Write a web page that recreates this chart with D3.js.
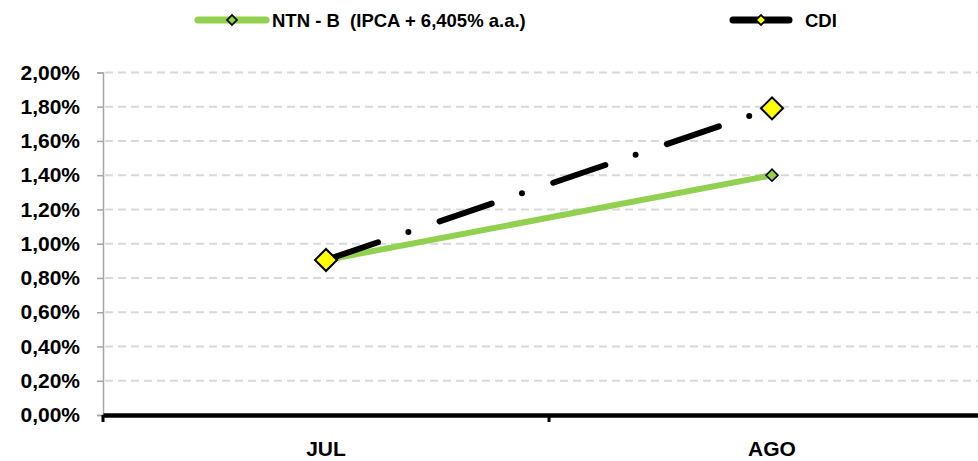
<!DOCTYPE html>
<html>
<head>
<meta charset="utf-8">
<script src="https://cdn.jsdelivr.net/npm/d3@7"></script>
<style>
  html, body { margin: 0; padding: 0; background: #fff; }
  svg { display: block; }
  text { font-family: "Liberation Sans Narrow", "Liberation Sans", Arial, sans-serif; font-weight: bold; fill: #000; white-space: pre; }
</style>
</head>
<body>
<svg id="chart" width="978" height="461"></svg>
<script>
// Monthly return, in percent
const months = ["JUL", "AGO"];
const ntnbValues = [0.905, 1.40];
const cdiValues = [0.905, 1.79];
const yTicks = [0, 0.2, 0.4, 0.6, 0.8, 1.0, 1.2, 1.4, 1.6, 1.8, 2.0];
const seriesNames = ["NTN - B  (IPCA + 6,405% a.a.)", "CDI"];

const svg = d3.select("#chart");
const plotLeft = 103, plotRight = 995, plotTop = 72.4, plotBottom = 415;

const x = d3.scaleBand().domain(months).range([plotLeft, plotRight]).paddingInner(0).paddingOuter(0);
const y = d3.scaleLinear().domain([0, 2]).range([plotBottom, plotTop]);
const fmt = v => d3.format(".2f")(v).replace(".", ",") + "%";

// horizontal gridlines
svg.append("g").selectAll("line").data(yTicks.filter(t => t > 0)).join("line")
  .attr("x1", plotLeft + 2).attr("x2", 978)
  .attr("y1", d => y(d)).attr("y2", d => y(d))
  .attr("stroke", "#d9d9d9").attr("stroke-width", 2).attr("stroke-dasharray", "8,5");

// y axis
const yAxis = svg.append("g").attr("transform", `translate(${plotLeft},0)`)
  .call(d3.axisLeft(y).tickValues(yTicks).tickFormat(fmt).tickSize(6).tickPadding(17));
yAxis.select(".domain").attr("stroke", "#a6a6a6").attr("stroke-width", 1.5);
yAxis.selectAll(".tick line").attr("stroke", "#a6a6a6").attr("stroke-width", 1.5);
yAxis.selectAll("text").attr("font-size", 21).style("font-family", '"Liberation Sans Narrow", sans-serif').style("font-weight", "bold");

// x axis
const xAxis = svg.append("g").attr("transform", `translate(0,${plotBottom})`)
  .call(d3.axisBottom(x).tickSize(0).tickPadding(26));
xAxis.select(".domain").attr("stroke", "#000").attr("stroke-width", 4.5);
xAxis.selectAll("text").attr("font-size", 21).style("font-family", '"Liberation Sans Narrow", sans-serif').style("font-weight", "bold");
// category boundary ticks
svg.append("g").selectAll("line").data(months).join("line")
  .attr("x1", d => x(d)).attr("x2", d => x(d))
  .attr("y1", plotBottom).attr("y2", plotBottom + 7)
  .attr("stroke", "#000").attr("stroke-width", 3);

const cx = d => x(d) + x.bandwidth() / 2;
const line = d3.line().x(d => cx(d.m)).y(d => y(d.v));

const ntnb = months.map((m, i) => ({ m, v: ntnbValues[i] }));
const cdi = months.map((m, i) => ({ m, v: cdiValues[i] }));

// NTN-B line
svg.append("path").datum(ntnb).attr("d", line)
  .attr("fill", "none").attr("stroke", "#92d050").attr("stroke-width", 6).attr("stroke-linecap", "butt");

// CDI line (long dash - dot)
svg.append("path").datum(cdi).attr("d", line)
  .attr("fill", "none").attr("stroke", "#000").attr("stroke-width", 6)
  .attr("stroke-linecap", "round").attr("stroke-dasharray", "55,32,0,33");

const diamond = (sel, data, size, fill, sw) => sel.selectAll(null).data(data).join("path")
  .attr("d", d3.symbol(d3.symbolSquare, size * size / 2)())
  .attr("transform", d => `translate(${cx(d.m)},${y(d.v)}) rotate(45)`)
  .attr("fill", fill).attr("stroke", "#000").attr("stroke-width", sw);

diamond(svg.append("g"), ntnb, 12, "#92d050", 1.6);
diamond(svg.append("g"), cdi, 22, "#ffff00", 2);

// legend
const lg = svg.append("g");
const legendItems = [
  { name: seriesNames[0], x0: 198, x1: 266, color: "#92d050", fill: "#92d050", tx: 272 },
  { name: seriesNames[1], x0: 733, x1: 789, color: "#000", fill: "#ffff00", tx: 805 }
];
legendItems.forEach(it => {
  lg.append("line").attr("x1", it.x0).attr("x2", it.x1).attr("y1", 20).attr("y2", 20)
    .attr("stroke", it.color).attr("stroke-width", 7).attr("stroke-linecap", "round");
  lg.append("path").attr("d", d3.symbol(d3.symbolSquare, 50)())
    .attr("transform", `translate(${(it.x0 + it.x1) / 2},20) rotate(45)`)
    .attr("fill", it.fill).attr("stroke", "#000").attr("stroke-width", 1.6);
  lg.append("text").attr("x", it.tx).attr("y", 26.5).attr("font-size", 18.5).text(it.name);
});
</script>
</body>
</html>
